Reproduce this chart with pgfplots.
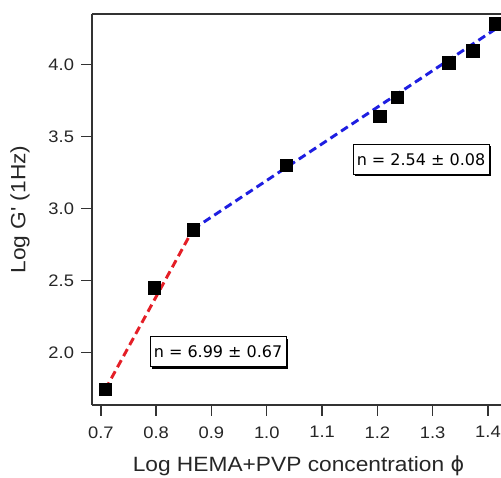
\documentclass[border=0pt]{standalone}
\usepackage{pgfplots}
\pgfplotsset{compat=1.18}
\usepackage{fontspec}
\setmainfont{Liberation Sans}[FakeStretch=1.1]
\newfontfamily\boxfont{DejaVu Sans}
\newfontfamily\phifont{DejaVu Sans}[FakeStretch=1.0]
\usetikzlibrary{shadows}
\definecolor{myred}{RGB}{228,30,38}
\definecolor{myblue}{RGB}{30,30,225}
\begin{document}
\begin{tikzpicture}
\begin{axis}[
  scale only axis,
  width=306.75pt, height=293.25pt,
  xmin=0.684, xmax=1.4236,
  ymin=1.637, ymax=4.349,
  axis x line=box, axis y line=left,
  axis line style={-, line width=1pt, black!80},
  xtick={0.7,0.8,...,1.4},
  ytick={2.0,2.5,3.0,3.5,4.0},
  xtick pos=bottom, ytick pos=left,
  tick align=outside,
  major tick length=8pt,
  tick style={line width=1pt, black!80},
  /pgf/number format/assume math mode=true,
  /pgf/number format/fixed, /pgf/number format/fixed zerofill,
  /pgf/number format/precision=1,
  tick label style={font=\fontsize{12.5}{14}\selectfont, text=black!85},
  xticklabel style={yshift=-4.5pt},
  yticklabel style={xshift=-2pt},
  every axis x label/.style={at={(axis description cs:0.5,0)}, yshift=-49.5pt, xshift=1.5pt, anchor=base},
  every axis y label/.style={at={(axis description cs:0,0.5)}, xshift=-54pt, rotate=90, anchor=center},
  label style={font=\fontsize{15.5}{18}\selectfont, text=black!85},
  xlabel={Log HEMA+PVP concentration {\phifont ϕ}},
  ylabel={Log G\textquotesingle\ (1Hz)},
  clip=false,
]
\addplot[myred, line width=2.2pt, dash pattern=on 6pt off 3.5pt] coordinates {(0.708,1.745) (0.867,2.857)};
\addplot[myblue, line width=2.2pt, dash pattern=on 6pt off 3.5pt] coordinates {(0.867,2.857) (1.4236,4.270)};
\addplot[only marks, mark=square*, mark size=4.7pt, mark options={fill=black, draw=black}] table {
x y
0.708 1.745
0.797 2.451
0.867 2.854
1.035 3.299
1.204 3.639
1.236 3.773
1.329 4.011
1.373 4.095
1.413 4.281
};
\node[draw=black, fill=white, line width=0.8pt, minimum width=102pt, minimum height=22.5pt, inner sep=0pt,
  drop shadow={shadow xshift=1.3pt, shadow yshift=-1.3pt, fill=black, opacity=1},
  font=\boxfont\fontsize{12}{14}\selectfont] at (axis cs:1.279,3.338) {n = 2.54 ± 0.08};
\node[draw=black, fill=white, line width=0.8pt, minimum width=102pt, minimum height=22.5pt, inner sep=0pt,
  drop shadow={shadow xshift=1.3pt, shadow yshift=-1.3pt, fill=black, opacity=1},
  font=\boxfont\fontsize{12}{14}\selectfont] at (axis cs:0.912,2.005) {n = 6.99 ± 0.67};
\end{axis}
\pgfresetboundingbox
\path ([xshift=-69pt, yshift=-54pt]current axis.south west) rectangle ([yshift=10.5pt]current axis.north east);
\end{tikzpicture}
\end{document}
